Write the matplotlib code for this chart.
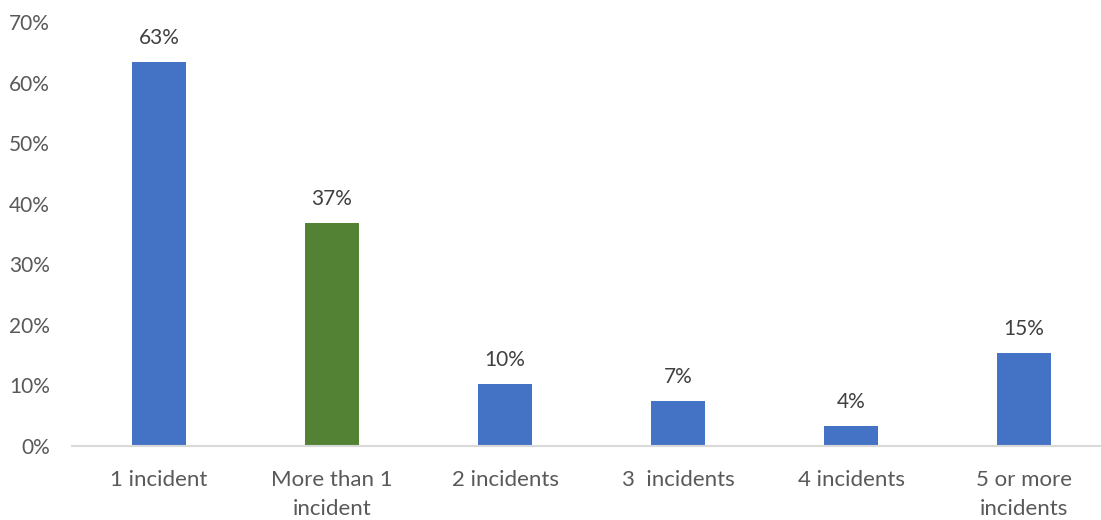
import matplotlib
matplotlib.use("Agg")
import matplotlib.pyplot as plt

categories = ["1 incident", "More than 1\nincident", "2 incidents", "3  incidents", "4 incidents", "5 or more\nincidents"]
values = [63.4, 36.8, 10.2, 7.4, 3.3, 15.35]
value_labels = ["63%", "37%", "10%", "7%", "4%", "15%"]
bar_colors = ["#4472C4", "#548235", "#4472C4", "#4472C4", "#4472C4", "#4472C4"]
y_ticks = [0, 10, 20, 30, 40, 50, 60, 70]
y_tick_labels = ["0%", "10%", "20%", "30%", "40%", "50%", "60%", "70%"]

plt.rcParams['font.family'] = ['Lato', 'DejaVu Sans']

W, H = 1101, 520
fig = plt.figure(figsize=(W / 100, H / 100), dpi=100)
left_px, right_px, bottom_px, top_px = 72, 1101, 446, 22
ax = fig.add_axes([left_px / W, (H - bottom_px) / H, (right_px - left_px) / W, (bottom_px - top_px) / H])

x = list(range(len(categories)))
bars = ax.bar(x, values, width=0.31, color=bar_colors, zorder=2)

for xi, v, lab in zip(x, values, value_labels):
    ax.annotate(lab, (xi, v), xytext=(0, 10), textcoords="offset points",
                ha="center", va="bottom", fontsize=15, color="#404040")

ax.set_xlim(-0.503, 5.445)
ax.set_ylim(0, 70)
ax.set_yticks(y_ticks)
ax.set_yticklabels(y_tick_labels)
ax.set_xticks(x)
ax.set_xticklabels(categories, linespacing=1.6)

for s in ["top", "right", "left"]:
    ax.spines[s].set_visible(False)
ax.spines["bottom"].set_color("#D9D9D9")
ax.spines["bottom"].set_linewidth(1.5)
ax.tick_params(axis="y", length=0, pad=16, labelsize=15, labelcolor="#595959")
ax.tick_params(axis="x", length=0, pad=17, labelsize=16, labelcolor="#595959")

fig.savefig("out.png", dpi=100)
